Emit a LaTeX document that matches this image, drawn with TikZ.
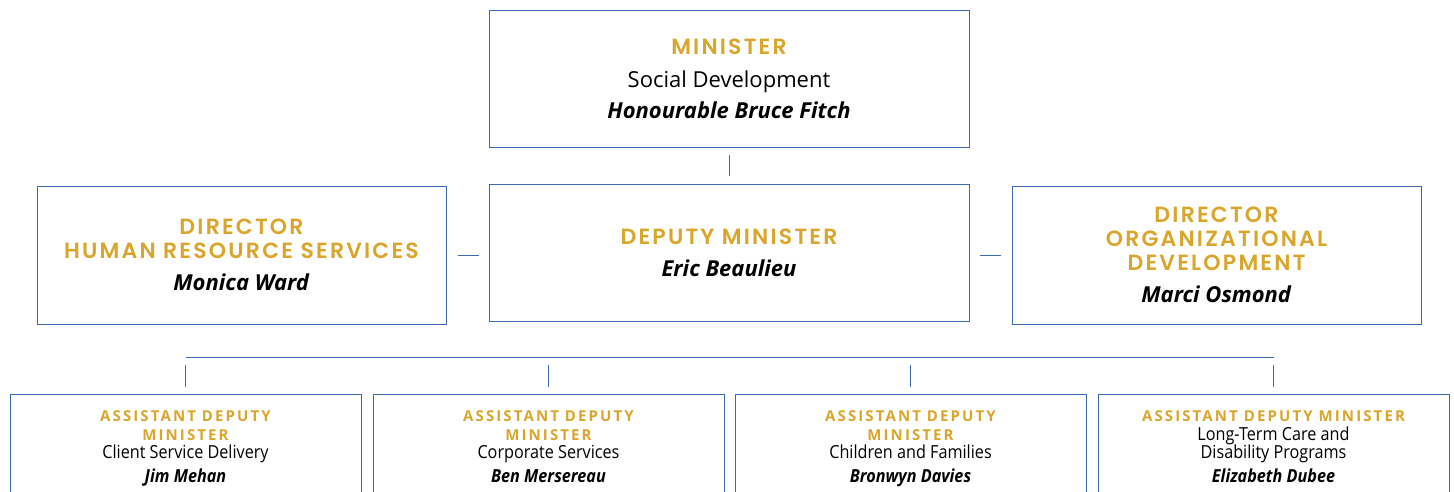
\documentclass[tikz,border=0pt]{standalone}
\usepackage{fontspec}
\setmainfont{Open Sans}
\newfontfamily\headfont[LetterSpace=10,BoldFont={Poppins SemiBold}]{Poppins}
\newfontfamily\admheadfont[LetterSpace=14]{Open Sans}
\newfontfamily\narrowfont[FakeStretch=0.9]{Open Sans}
\usetikzlibrary{positioning}

\definecolor{boxblue}{RGB}{59,105,178}
\definecolor{gold}{RGB}{218,165,43}

\newcommand{\post}[1]{{\headfont\bfseries\color{gold}#1}}
\newcommand{\admpost}[1]{{\admheadfont\bfseries\fontsize{15}{19}\selectfont\color{gold}#1}}

\tikzset{
	unit/.style={draw=boxblue, line width=1pt, fill=white, align=center, inner sep=0pt},
	bigbox/.style={unit, minimum width=480pt, minimum height=137pt, font=\fontsize{22}{24}\selectfont},
	sidebox/.style={unit, minimum width=409pt, minimum height=138pt, font=\fontsize{22}{24}\selectfont},
	admbox/.style={unit, minimum width=351pt, anchor=north, inner ysep=16pt, font=\narrowfont\fontsize{18}{19}\selectfont},
	link/.style={draw=boxblue, line width=1pt},
}

\begin{document}
\begin{tikzpicture}[x=1pt,y=-1pt]
	\useasboundingbox (0,0) rectangle (1454,491);
	\clip (0,0) rectangle (1454,491);
	
	% top of the chart
	\node[bigbox] (minister) at (729,78.5) {\post{MINISTER}\\[9pt] Social Development\\[7pt] \textbf{\textit{Honourable Bruce Fitch}}};
	\node[bigbox] (deputy) at (729,252.5) {\post{DEPUTY MINISTER}\\[8pt] \textbf{\textit{Eric Beaulieu}}};
	\node[sidebox] (hr) at (241.5,255) {\post{DIRECTOR}\\ \post{HUMAN RESOURCE SERVICES}\\[8pt] \textbf{\textit{Monica Ward}}};
	\node[sidebox] (orgdev) at (1216.5,255) {\post{DIRECTOR}\\ \post{ORGANIZATIONAL}\\ \post{DEVELOPMENT}\\[8pt] \textbf{\textit{Marci Osmond}}};
	
	\draw[link, shorten <=7pt, shorten >=8pt] (minister.south) -- (deputy.north);
	\draw[link, shorten <=11pt, shorten >=10pt] (hr.east) -- (hr.east -| deputy.west);
	\draw[link, shorten <=10pt, shorten >=11pt] (deputy.east |- orgdev.west) -- (orgdev.west);
	
	% assistant deputy ministers
	\node[admbox] (adm1) at (185.5,394) {\admpost{ASSISTANT DEPUTY}\\ \admpost{MINISTER}\\[-1pt] Client Service Delivery\\[5pt] \textbf{\textit{Jim Mehan}}};
	\node[admbox] (adm2) at (548.5,394) {\admpost{ASSISTANT DEPUTY}\\ \admpost{MINISTER}\\[-1pt] Corporate Services\\[5pt] \textbf{\textit{Ben Mersereau}}};
	\node[admbox] (adm3) at (910.5,394) {\admpost{ASSISTANT DEPUTY}\\ \admpost{MINISTER}\\[-1pt] Children and Families\\[5pt] \textbf{\textit{Bronwyn Davies}}};
	\node[admbox] (adm4) at (1273.5,394) {\admpost{ASSISTANT DEPUTY MINISTER}\\ Long-Term Care and\\[-1pt] Disability Programs\\[5pt] \textbf{\textit{Elizabeth Dubee}}};
	
	\foreach \i in {1,...,4}{
		\coordinate[above=37pt of adm\i.north] (bus\i);
		\draw[link, shorten <=8pt, shorten >=7pt] (bus\i) -- (adm\i.north);
	}
	\draw[link] (bus1) -- (bus4);
\end{tikzpicture}
\end{document}
